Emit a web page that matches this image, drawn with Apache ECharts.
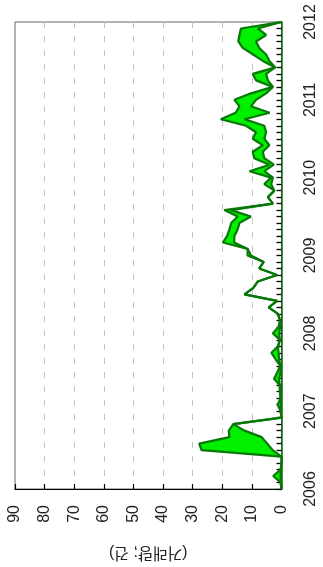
<!DOCTYPE html>
<html>
<head>
<meta charset="utf-8">
<script src="https://cdn.jsdelivr.net/npm/echarts@6/dist/echarts.min.js"></script>
<style>
  html, body { margin: 0; padding: 0; background: #fff; }
  #chart { width: 323px; height: 567px; }
</style>
</head>
<body>
<div id="chart"></div>
<script>
// Monthly transaction counts, Jan 2006 .. Jan 2012 (73 months)
const startYear = 2006;
const yearTicks = [2006, 2007, 2008, 2009, 2010, 2011, 2012];
const valueTicks = [0, 10, 20, 30, 40, 50, 60, 70, 80, 90];
const axisTitle = '(거래량; 건)';

// outer edge of the band
const bandOuter = [
  0, 0.3, 2.8, 0.3, 0, 0, 27.0, 27.8, 17.6, 17.8, 16.3, 0,
  0.3, 1.3, 0.3, 0.5, 0.6, 2.5, 1.4, 0.4, 2.0, 3.4, 1.2, 0.5,
  2.9, 1.0, 0.5, 1.2, 4.3, 1.5, 12.5, 9.5, 8.0, 1.5, 7.5, 6.0,
  11.5, 11.4, 19.8, 18.4, 17.6, 17.0, 14.8, 19.3, 2.9, 4.6, 2.4, 5.8,
  3.5, 10.8, 4.1, 9.2, 9.7, 6.3, 9.7, 8.6, 12.0, 20.5, 15.5, 14.2,
  15.9, 10.3, 2.9, 8.6, 9.7, 2.1, 6.3, 9.7, 13.1, 14.6, 14.2, 13.7,
  0
];
// inner edge of the band
const bandInner = [
  0, 0.3, 0.3, 0.3, 0, 0, 3.0, 4.8, 6.7, 12.5, 16.3, 0,
  0.3, 0.2, 0.3, 0.5, 0.6, 0.8, 0.3, 0.4, 0.8, 1.0, 1.2, 0.5,
  0.8, 0.4, 0.5, 1.2, 4.3, 1.5, 12.5, 9.5, 8.0, 1.5, 7.5, 6.0,
  10.3, 11.4, 16.0, 15.9, 14.8, 14.2, 10.3, 17.0, 2.9, 4.6, 2.4, 3.5,
  2.9, 5.8, 2.6, 5.8, 6.3, 4.1, 5.8, 5.2, 5.8, 12.5, 4.0, 10.3,
  8.6, 5.2, 2.9, 4.6, 5.2, 2.1, 4.1, 5.2, 7.5, 8.6, 5.2, 8.0,
  0
];

// positions along the time axis are month indices counted from Jan 2006
const monthCount = (yearTicks[yearTicks.length - 1] - startYear) * 12;
const outerPts = bandOuter.map((v, i) => [v, i]);
const innerPts = bandInner.map((v, i) => [v, i]);

const FONT = "'Liberation Sans', Arial, 'Noto Sans CJK KR', sans-serif";
const LINE_GREEN = '#077807';
const FILL_GREEN = '#00f000';

const chart = echarts.init(document.getElementById('chart'), null, { renderer: 'canvas' });

chart.setOption({
  animation: false,
  backgroundColor: '#fff',
  grid: {
    left: 15, right: 41.5, top: 22, bottom: 78,
    show: true, borderColor: '#666', borderWidth: 1, backgroundColor: 'transparent'
  },
  xAxis: {
    type: 'value',
    inverse: true,
    position: 'bottom',
    min: valueTicks[0],
    max: valueTicks[valueTicks.length - 1],
    interval: 10,
    axisLine: { show: true, onZero: false, lineStyle: { color: '#000', width: 1 } },
    axisTick: { show: true, inside: true, length: 5, lineStyle: { color: '#000', width: 1.2 } },
    axisLabel: {
      rotate: 90, fontSize: 16, color: '#222', fontFamily: FONT, margin: 16,
      formatter: v => valueTicks.includes(v) ? String(v) : ''
    },
    splitLine: {
      show: true, showMinLine: false, showMaxLine: false,
      lineStyle: { color: '#c4c4c4', type: [6, 8], width: 1 }
    },
    name: axisTitle,
    nameLocation: 'middle',
    nameGap: 55,
    nameRotate: 180,
    nameTextStyle: { fontSize: 16, color: '#222', fontFamily: FONT }
  },
  yAxis: [
    {
      // yearly labels
      type: 'value',
      position: 'right',
      min: 0,
      max: monthCount,
      interval: 12,
      axisLine: { show: true, onZero: false, lineStyle: { color: '#0a6a0a', width: 1.5 } },
      axisTick: { show: false },
      axisLabel: {
        rotate: 90, fontSize: 16, color: '#222', fontFamily: FONT, margin: 21,
        formatter: v => String(yearTicks[Math.round(v / 12)])
      },
      splitLine: { show: false }
    },
    {
      // monthly tick marks on the same scale
      type: 'value',
      position: 'right',
      min: 0,
      max: monthCount,
      interval: 1,
      axisLine: { show: false },
      axisTick: { show: true, inside: true, length: 5, lineStyle: { color: '#000', width: 1.3 } },
      axisLabel: { show: false },
      splitLine: { show: false }
    }
  ],
  series: [
    {
      // filled band between the two edges
      type: 'custom',
      coordinateSystem: 'cartesian2d',
      data: [0],
      clip: true,
      silent: true,
      renderItem: function (params, api) {
        const pts = [];
        for (let i = 0; i < outerPts.length; i++) pts.push(api.coord(outerPts[i]));
        for (let i = innerPts.length - 1; i >= 0; i--) pts.push(api.coord(innerPts[i]));
        return {
          type: 'polygon',
          shape: { points: pts },
          style: { fill: FILL_GREEN, stroke: 'none' }
        };
      },
      z: 1
    },
    {
      type: 'line',
      data: outerPts,
      showSymbol: false,
      lineStyle: { color: LINE_GREEN, width: 2.2 },
      clip: true,
      z: 2
    },
    {
      type: 'line',
      data: innerPts,
      showSymbol: false,
      lineStyle: { color: LINE_GREEN, width: 2.2 },
      clip: true,
      z: 2
    }
  ]
});
</script>
</body>
</html>
